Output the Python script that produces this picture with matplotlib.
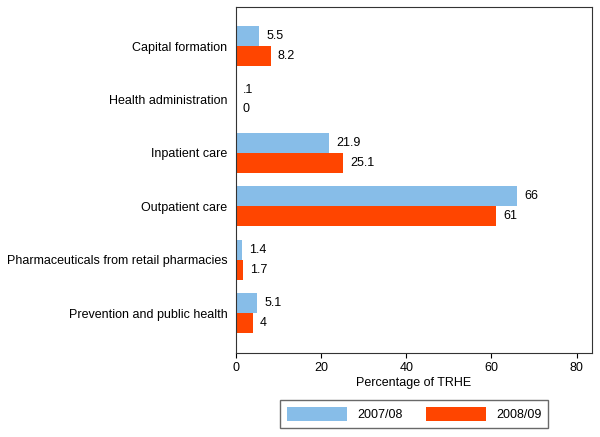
import matplotlib
matplotlib.use('Agg')
import matplotlib.pyplot as plt
import numpy as np

plt.rcParams['font.family'] = ['Liberation Sans', 'DejaVu Sans']

categories = ['Capital formation', 'Health administration', 'Inpatient care',
              'Outpatient care', 'Pharmaceuticals from retail pharmacies',
              'Prevention and public health']
vals_0708 = [5.5, 0.1, 21.9, 66, 1.4, 5.1]
vals_0809 = [8.2, 0, 25.1, 61, 1.7, 4]
labels_0708 = ['5.5', '.1', '21.9', '66', '1.4', '5.1']
labels_0809 = ['8.2', '0', '25.1', '61', '1.7', '4']

blue = '#87bde8'
red = '#ff4500'
fs = 9

fig = plt.figure(figsize=(6, 4.37), dpi=100)
ax = fig.add_axes([0.3928, 0.1929, 0.594, 0.7918])

y = np.arange(len(categories))
h = 0.374
ax.barh(y - h / 2, vals_0708, height=h, color=blue, label='2007/08')
ax.barh(y + h / 2, vals_0809, height=h, color=red, label='2008/09')

# value labels next to each bar
for yi, v, t in zip(y, vals_0708, labels_0708):
    ax.text(v + 1.7, yi - h / 2, t, va='center', ha='left', fontsize=fs)
for yi, v, t in zip(y, vals_0809, labels_0809):
    ax.text(v + 1.7, yi + h / 2, t, va='center', ha='left', fontsize=fs)

ax.set_ylim(len(categories) - 0.264, -0.736)
ax.set_xlim(0, 83.6)
ax.set_yticks(y)
ax.set_yticklabels(categories, fontsize=fs)
ax.set_xticks([0, 20, 40, 60, 80])
ax.tick_params(axis='x', labelsize=fs, length=3.5, width=0.8, pad=3)
ax.tick_params(axis='y', length=0, pad=6)
ax.set_xlabel('Percentage of TRHE', fontsize=fs, labelpad=2)
for s in ax.spines.values():
    s.set_linewidth(0.8)
    s.set_color('#333333')

fig.legend(loc='center', bbox_to_anchor=(0.6905, 0.0526), ncol=2, fontsize=fs,
           frameon=True, fancybox=False, edgecolor='#444444',
           handlelength=4.8, handleheight=1.28, columnspacing=1.86,
           borderpad=0.55, handletextpad=0.8)

plt.savefig('out.png', dpi=100)
